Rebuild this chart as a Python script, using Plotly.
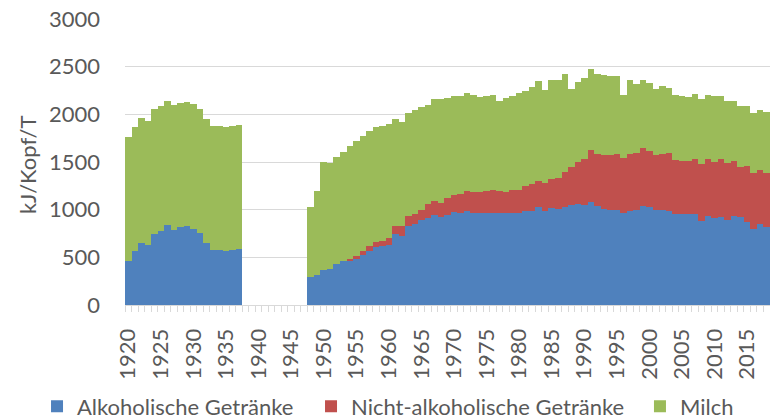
import plotly.graph_objects as go

years = list(range(1920, 2019))

alkohol_1920_1937 = [462, 570, 653, 625, 750, 778, 841, 792, 820, 830, 799, 757, 653, 580, 576, 563, 573, 587]
milch_1920_1937 = [1297, 1300, 1304, 1301, 1301, 1305, 1301, 1301, 1301, 1298, 1308, 1298, 1301, 1297, 1298, 1300, 1301, 1301]
nicht_1920_1937 = [0] * 18

gap_years = 10  # 1938-1947: keine Daten

alkohol_1948_2018 = [291, 315, 371, 381, 433, 458, 462, 479, 524, 569, 611, 622, 625, 743, 729,
                     833, 849, 887, 915, 943, 925, 943, 974, 970, 984, 970, 960, 963, 970, 963,
                     960, 967, 970, 981, 991, 1023, 991, 1019, 1012, 1026, 1054, 1064, 1054, 1085,
                     1037, 1012, 995, 995, 970, 991, 995, 1043, 1023, 995, 998, 988, 953, 953, 957,
                     953, 885, 938, 910, 920, 893, 938, 921, 866, 800, 848, 820]
nicht_1948_2018 = [0, 0, 0, 0, 0, 0, 24, 37, 42, 49, 52, 51, 73, 87, 101,
                   102, 108, 108, 146, 146, 146, 177, 181, 192, 209, 216, 223, 234, 237, 234,
                   230, 238, 237, 264, 275, 274, 289, 299, 320, 365, 389, 432, 473, 539,
                   542, 557, 581, 584, 574, 588, 602, 602, 591, 574, 581, 605, 570, 560, 556,
                   577, 595, 589, 590, 607, 599, 568, 526, 591, 581, 568, 568]
milch_1948_2018 = [737, 877, 1127, 1106, 1120, 1148, 1182, 1208, 1210, 1207, 1207, 1207, 1200, 1116, 1092,
                   1082, 1092, 1078, 1040, 1071, 1086, 1050, 1033, 1026, 1033, 1019, 998, 994, 998, 939,
                   980, 992, 1019, 998, 1016, 1051, 974, 1040, 1026, 1030, 828, 845, 849, 853,
                   849, 848, 831, 821, 658, 779, 726, 713, 713, 692, 717, 685, 682, 682, 671,
                   682, 676, 678, 688, 668, 646, 639, 639, 626, 629, 625, 636]

alkohol = alkohol_1920_1937 + [None] * gap_years + alkohol_1948_2018
nicht = nicht_1920_1937 + [None] * gap_years + nicht_1948_2018
milch = milch_1920_1937 + [None] * gap_years + milch_1948_2018

tick_years = list(range(1920, 2019, 5))
tick_labels = [str(y) for y in tick_years]

series_names = ["Alkoholische Getränke", "Nicht-alkoholische Getränke", "Milch"]
colors = ["#4F81BD", "#C0504D", "#9BBB59"]
legend_ids = ["legend2", "legend3", "legend4"]
legend_x = [-0.1364, 0.2884, 0.7984]

FONT = "Lato"
TXT = "#595959"
FS = 22

fig = go.Figure()
for name, vals, col, lg in zip(series_names, [alkohol, nicht, milch], colors, legend_ids):
    fig.add_trace(go.Bar(x=years, y=vals, name=name, legend=lg, showlegend=True,
                         marker=dict(color=col, line=dict(width=0))))

legend_common = dict(orientation="h", xanchor="left", y=-0.355, yanchor="middle",
                     font=dict(family=FONT, size=FS, color=TXT), itemwidth=30,
                     bgcolor="rgba(0,0,0,0)", visible=True)

fig.update_layout(
    barmode="stack",
    bargap=0,
    width=770, height=418,
    margin=dict(l=125, r=0, t=19, b=113, autoexpand=False),
    plot_bgcolor="white", paper_bgcolor="white",
    font=dict(family=FONT, size=FS, color=TXT),
    showlegend=True,
    legend2=dict(x=legend_x[0], **legend_common),
    legend3=dict(x=legend_x[1], **legend_common),
    legend4=dict(x=legend_x[2], **legend_common),
    annotations=[dict(text="kJ/Kopf/T", xref="paper", yref="paper", x=-0.150, y=0.49,
                      xanchor="center", yanchor="middle", textangle=-90, showarrow=False,
                      font=dict(family=FONT, size=FS, color=TXT))],
)
fig.update_xaxes(
    range=[1919.5, 2018.5], automargin=False,
    tickmode="array", tickvals=tick_years, ticktext=tick_labels,
    tickangle=-90, ticks="", ticklabelstandoff=14,
    showgrid=False, showline=True, linecolor="#D9D9D9", linewidth=1,
    minor=dict(ticks="outside", tickmode="linear", tick0=1919.5, dtick=1, ticklen=6,
               tickcolor="#D9D9D9", showgrid=False),
    tickfont=dict(family=FONT, size=FS, color=TXT),
)
fig.update_yaxes(
    range=[0, 3000], dtick=500, tick0=0, automargin=False,
    showgrid=True, gridcolor="#D9D9D9", gridwidth=1, zeroline=False,
    ticks="", ticklabelstandoff=24,
    tickfont=dict(family=FONT, size=FS, color=TXT),
)

fig.write_html(
    "out.html",
    config={"displayModeBar": False},
    post_script="document.body.style.margin='0';document.body.style.overflow='hidden';",
)
